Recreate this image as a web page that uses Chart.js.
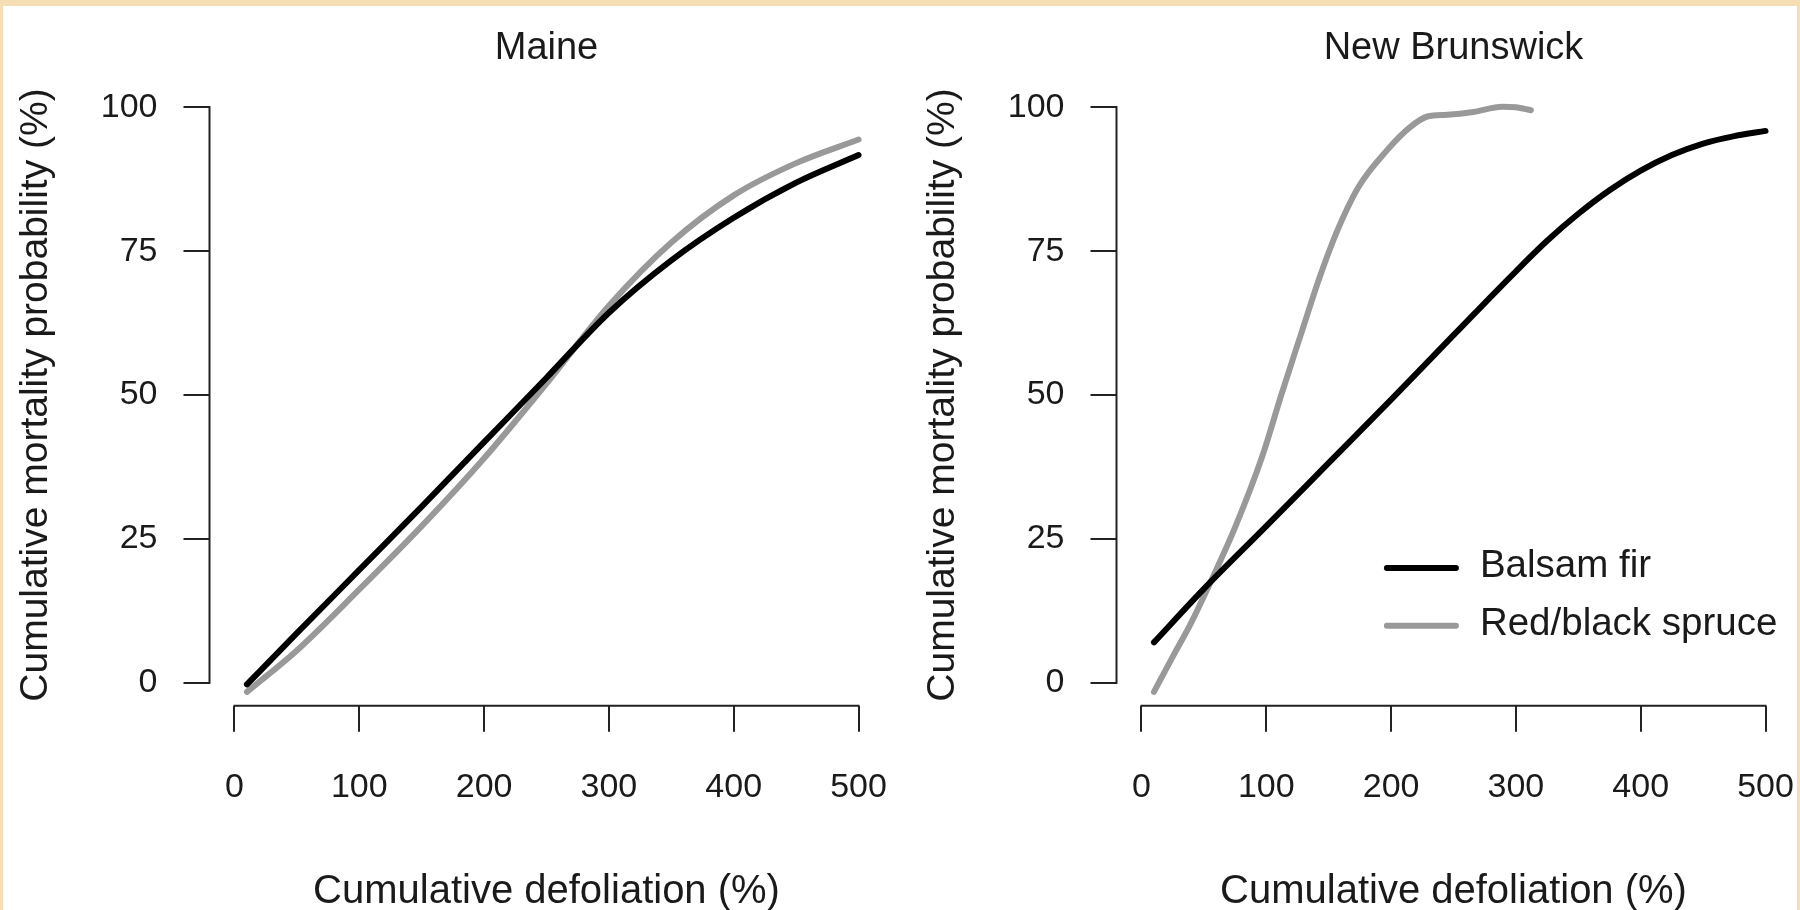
<!DOCTYPE html>
<html>
<head>
<meta charset="utf-8">
<script src="https://cdn.jsdelivr.net/npm/chart.js@4.4.1/dist/chart.umd.min.js"></script>
<style>
  html, body { margin: 0; padding: 0; }
  body { width: 1800px; height: 910px; background: #f5deb3; overflow: hidden; position: relative; }
  .sheet { position: absolute; left: 3px; top: 6px; right: 3px; bottom: 0; background: #fff; }
  .panel { position: absolute; top: 0; width: 893px; height: 910px; }
</style>
</head>
<body>
<div class="sheet"></div>
<div class="panel" style="left:0px"><canvas id="maineChart"></canvas></div>
<div class="panel" style="left:907px"><canvas id="nbChart"></canvas></div>
<script>
// Datos
const xTicks = [0, 100, 200, 300, 400, 500];
const yTicks = [0, 25, 50, 75, 100];

// Maine
const maineX = [10, 50, 100, 150, 200, 250, 300, 350, 400, 450, 500];
const maineFir = [-0.3, 8.6, 19.6, 30.6, 41.8, 53, 64.3, 73.4, 80.8, 86.9, 91.7];
const maineSpruce = [-1.6, 5.6, 16.2, 27.2, 39, 52, 65.5, 76.5, 84.7, 90.3, 94.4];

// New Brunswick
const nbFirX = [10, 50, 100, 150, 200, 250, 300, 325, 350, 375, 400, 425, 450, 475, 500];
const nbFir = [7, 16.3, 27.2, 38.2, 49.2, 60.4, 71.5, 76.8, 81.5, 85.6, 89, 91.7, 93.7, 95, 95.9];
const nbSpruceX = [10, 25, 40, 56, 75, 97, 112, 128, 142, 156, 174, 197, 215, 229, 245, 266, 289, 300, 312];
const nbSpruce = [-1.6, 4.5, 10.5, 17.8, 27, 39.5, 50, 60.7, 70, 78.1, 86.2, 92.6, 96.5, 98.4, 98.7, 99.2, 100.1, 100, 99.5];

const seriesNames = ['Balsam fir', 'Red/black spruce'];
const seriesColors = ['#000000', '#999999'];

const FONT = 'Liberation Sans, Arial, Helvetica, sans-serif';
const INK = '#1a1a1a';

function toPoints(xs, ys) {
    return xs.map((x, i) => ({ x: x, y: ys[i] }));
}

function lineDataset(label, color, xs, ys) {
    return {
        label: label,
        data: toPoints(xs, ys),
        borderColor: color,
        backgroundColor: color,
        borderWidth: 6,
        borderCapStyle: 'round',
        borderJoinStyle: 'round',
        pointRadius: 0,
        cubicInterpolationMode: 'monotone',
        fill: false
    };
}

// Ejes al estilo R: la línea solo cubre del primer al último tick
const rAxesPlugin = {
    id: 'rAxes',
    afterDraw(chart) {
        const ctx = chart.ctx;
        const xs = chart.scales.x;
        const ys = chart.scales.y;
        const area = chart.chartArea;
        ctx.save();
        ctx.strokeStyle = '#222';
        ctx.lineWidth = 2;
        ctx.lineCap = 'square';
        ctx.beginPath();
        ctx.moveTo(xs.getPixelForValue(xTicks[0]), area.bottom);
        ctx.lineTo(xs.getPixelForValue(xTicks[xTicks.length - 1]), area.bottom);
        ctx.moveTo(area.left, ys.getPixelForValue(yTicks[0]));
        ctx.lineTo(area.left, ys.getPixelForValue(yTicks[yTicks.length - 1]));
        ctx.stroke();
        ctx.restore();
    }
};

// Leyenda dentro del área del gráfico (abajo a la derecha)
const insetLegendPlugin = {
    id: 'insetLegend',
    afterDraw(chart, args, opts) {
        if (!opts.show) return;
        const ctx = chart.ctx;
        const area = chart.chartArea;
        const x0 = area.right + opts.offsetX;
        let y = area.bottom + opts.offsetY;
        ctx.save();
        ctx.font = opts.fontSize + 'px ' + FONT;
        ctx.textAlign = 'left';
        ctx.textBaseline = 'alphabetic';
        chart.data.datasets.forEach(ds => {
            ctx.strokeStyle = ds.borderColor;
            ctx.lineWidth = 6;
            ctx.lineCap = 'round';
            ctx.beginPath();
            ctx.moveTo(x0, y);
            ctx.lineTo(x0 + opts.lineLength, y);
            ctx.stroke();
            ctx.fillStyle = INK;
            ctx.fillText(ds.label, x0 + opts.textGap, y + opts.baselineShift);
            y += opts.rowGap;
        });
        ctx.restore();
    }
};

function tickList(values) {
    return scale => { scale.ticks = values.map(v => ({ value: v })); };
}

function buildOptions(title, showLegend) {
    return {
        responsive: true,
        maintainAspectRatio: false,
        animation: false,
        layout: { padding: { left: 0, right: 9.5, top: 0, bottom: 0 } },
        plugins: {
            legend: { display: false },
            tooltip: { enabled: false },
            insetLegend: {
                show: showLegend,
                offsetX: -403.6,
                offsetY: -137.7,
                rowGap: 57.7,
                lineLength: 69,
                textGap: 93,
                baselineShift: 9,
                fontSize: 38.5
            }
        },
        scales: {
            x: {
                type: 'linear',
                position: 'bottom',
                min: -20,
                max: 520,
                afterBuildTicks: tickList(xTicks),
                afterFit: s => { s.height = 204.3; s.paddingLeft = 0; s.paddingRight = 0; },
                border: { display: false },
                grid: { display: true, drawOnChartArea: false, drawTicks: true, tickLength: 26, color: '#222', lineWidth: 2 },
                ticks: { color: INK, font: { family: FONT, size: 34 }, padding: 36, maxRotation: 0, autoSkip: false },
                title: { display: true, text: 'Cumulative defoliation (%)', color: INK, font: { family: FONT, size: 40 }, padding: { top: 0, bottom: -6 } }
            },
            x2: {
                type: 'linear',
                axis: 'x',
                position: 'top',
                display: true,
                min: -20,
                max: 520,
                afterFit: s => { s.height = 84.3; s.paddingLeft = 0; s.paddingRight = 0; },
                border: { display: false },
                grid: { display: false },
                ticks: { display: false },
                title: { display: true, text: title, color: INK, font: { family: FONT, size: 38 }, padding: { top: 26, bottom: 0 } }
            },
            y: {
                type: 'linear',
                position: 'left',
                min: -4,
                max: 104,
                afterBuildTicks: tickList(yTicks),
                afterFit: s => { s.width = 209.5; s.paddingTop = 0; s.paddingBottom = 0; },
                border: { display: false },
                grid: { display: true, drawOnChartArea: false, drawTicks: true, tickLength: 26, color: '#222', lineWidth: 2 },
                ticks: { color: INK, font: { family: FONT, size: 34 }, padding: 26 },
                title: { display: true, text: 'Cumulative mortality probability (%)', color: INK, font: { family: FONT, size: 39 }, padding: { top: 13, bottom: 0 } }
            }
        }
    };
}

document.addEventListener('DOMContentLoaded', function() {
    // Panel Maine
    new Chart(document.getElementById('maineChart').getContext('2d'), {
        type: 'line',
        data: {
            datasets: [
                lineDataset(seriesNames[0], seriesColors[0], maineX, maineFir),
                lineDataset(seriesNames[1], seriesColors[1], maineX, maineSpruce)
            ]
        },
        options: buildOptions('Maine', false),
        plugins: [rAxesPlugin, insetLegendPlugin]
    });

    // Panel New Brunswick
    new Chart(document.getElementById('nbChart').getContext('2d'), {
        type: 'line',
        data: {
            datasets: [
                lineDataset(seriesNames[0], seriesColors[0], nbFirX, nbFir),
                lineDataset(seriesNames[1], seriesColors[1], nbSpruceX, nbSpruce)
            ]
        },
        options: buildOptions('New Brunswick', true),
        plugins: [rAxesPlugin, insetLegendPlugin]
    });
});
</script>
</body>
</html>
